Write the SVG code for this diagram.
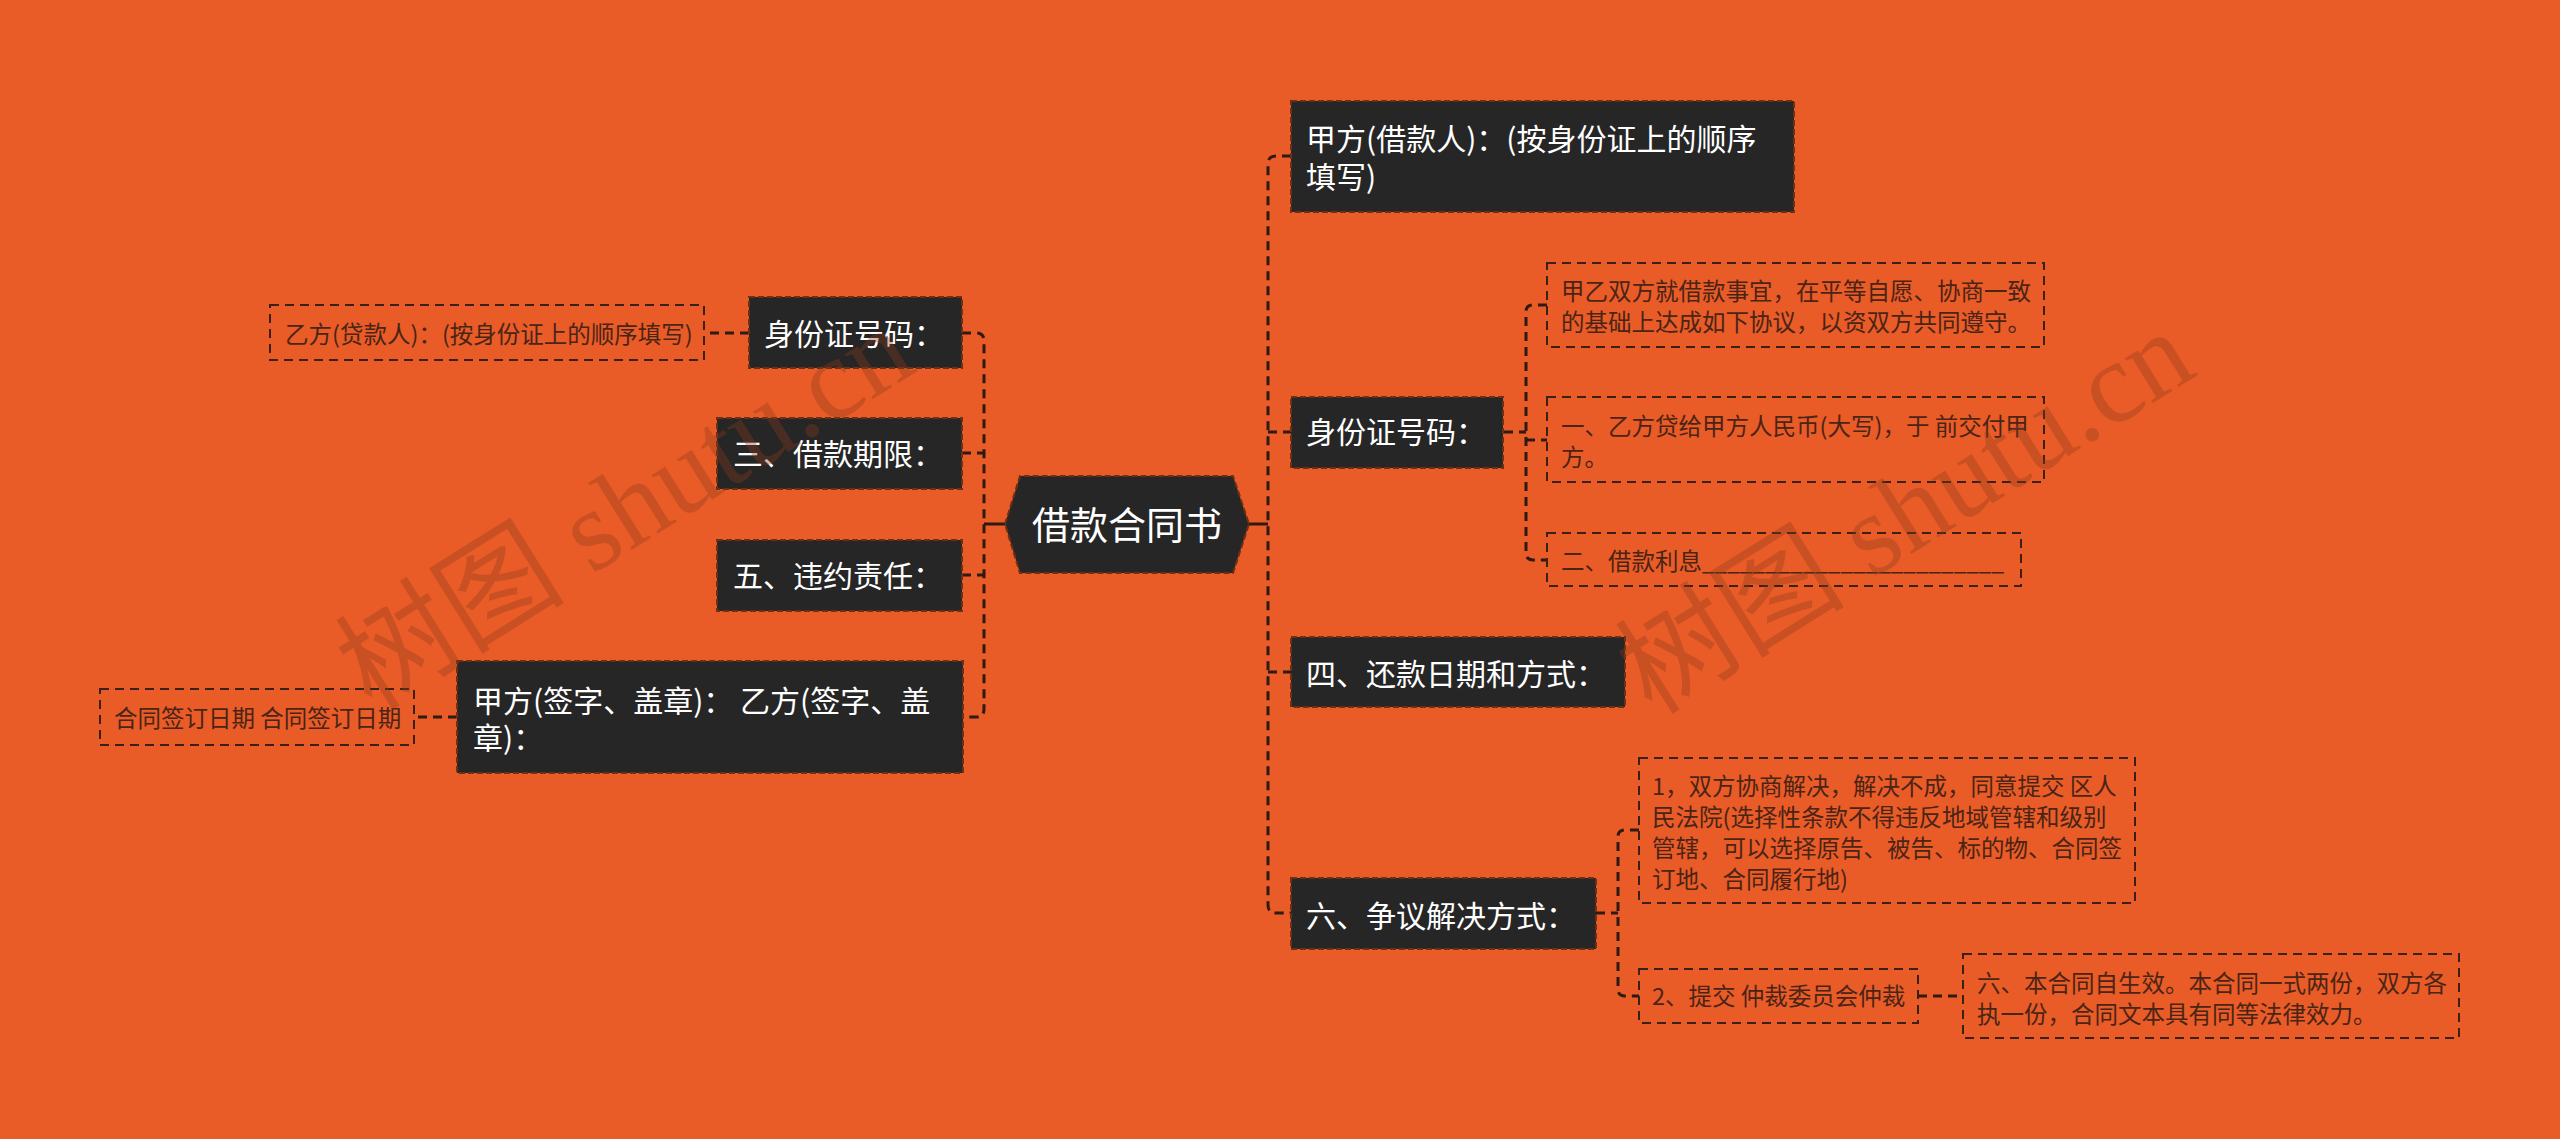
<svg xmlns="http://www.w3.org/2000/svg" width="2560" height="1139" viewBox="0 0 2560 1139">
<style>
.bg{fill:#E95B27}
.dark rect,.dark polygon{fill:#262626;stroke:#6e3014;stroke-width:2;stroke-dasharray:6 3}
.dark text{fill:#ffffff;font-family:"Noto Sans CJK SC","Noto Sans",sans-serif;font-size:30px}
.leaf rect{fill:none;stroke:#3a2016;stroke-width:2;stroke-dasharray:9 6}
.leaf text{fill:#4a2416;font-family:"Noto Sans CJK SC","Noto Sans",sans-serif;font-size:23.5px}
.conn path{fill:none;stroke:#2e1a12;stroke-width:3;stroke-dasharray:9 6}
.conn .solid{stroke-dasharray:none}
.wm{fill:#8c3c1e;opacity:0.35;font-family:"Liberation Serif","Noto Sans CJK SC",serif;font-size:115px}
</style>
<rect class="bg" x="0" y="0" width="2560" height="1139"/>

<g id="connectors" class="conn">
  <path class="solid" d="M1249,524 H1268"/>
  <path d="M1291,156 H1276 Q1268,156 1268,164 V905 Q1268,913 1276,913 H1291"/>
  <path d="M1268,432 H1291"/>
  <path d="M1268,672 H1291"/>
  <path class="solid" d="M1005,524 H984"/>
  <path d="M962,333 H976 Q984,333 984,341 V709 Q984,717 976,717 H962"/>
  <path d="M962,453 H984"/>
  <path d="M962,575 H984"/>
  <path d="M1504,432 H1526"/>
  <path d="M1547,305 H1533 Q1526,305 1526,312 V553 Q1526,560 1533,560 H1547"/>
  <path d="M1526,440 H1547"/>
  <path d="M1596,913 H1618"/>
  <path d="M1639,830 H1625 Q1618,830 1618,837 V989 Q1618,996 1625,996 H1639"/>
  <path d="M1918,996 H1963"/>
  <path d="M749,333 H704"/>
  <path d="M457,717 H414"/>
</g>

<g id="root" class="dark">
  <polygon points="1005,524 1020,476 1233,476 1249,524 1233,573 1020,573"/>
  <text x="1127" y="539" text-anchor="middle" style="font-size:38px">借款合同书</text>
</g>

<g id="r1" class="dark">
  <rect x="1291" y="101" width="503" height="111"/>
  <text x="1306" y="150">甲方(借款人)：(按身份证上的顺序<tspan x="1306" y="188">填写)</tspan></text>
</g>
<g id="r2" class="dark">
  <rect x="1291" y="397" width="212" height="71"/>
  <text x="1306" y="443">身份证号码：</text>
</g>
<g id="r2a" class="leaf">
  <rect x="1547" y="263" width="497" height="84"/>
  <text x="1561" y="300">甲乙双方就借款事宜，在平等自愿、协商一致<tspan x="1561" y="331">的基础上达成如下协议，以资双方共同遵守。</tspan></text>
</g>
<g id="r2b" class="leaf">
  <rect x="1547" y="397" width="497" height="85"/>
  <text x="1561" y="435">一、乙方贷给甲方人民币(大写)，于 前交付甲<tspan x="1561" y="466">方。</tspan></text>
</g>
<g id="r2c" class="leaf">
  <rect x="1547" y="533" width="474" height="53"/>
  <text x="1561" y="570">二、借款利息<tspan textLength="302" lengthAdjust="spacingAndGlyphs">________________________</tspan></text>
</g>
<g id="r3" class="dark">
  <rect x="1291" y="637" width="334" height="70"/>
  <text x="1306" y="685">四、还款日期和方式：</text>
</g>
<g id="r4" class="dark">
  <rect x="1291" y="878" width="305" height="71"/>
  <text x="1306" y="927">六、争议解决方式：</text>
</g>
<g id="r4a" class="leaf">
  <rect x="1639" y="758" width="496" height="145"/>
  <text x="1652" y="795">1，双方协商解决，解决不成，同意提交 区人<tspan x="1652" y="826">民法院(选择性条款不得违反地域管辖和级别</tspan><tspan x="1652" y="857">管辖，可以选择原告、被告、标的物、合同签</tspan><tspan x="1652" y="888">订地、合同履行地)</tspan></text>
</g>
<g id="r4b" class="leaf">
  <rect x="1639" y="969" width="279" height="54"/>
  <text x="1652" y="1005">2、提交 仲裁委员会仲裁</text>
</g>
<g id="r4b1" class="leaf">
  <rect x="1963" y="954" width="496" height="84"/>
  <text x="1977" y="992">六、本合同自生效。本合同一式两份，双方各<tspan x="1977" y="1023">执一份，合同文本具有同等法律效力。</tspan></text>
</g>

<g id="l1" class="dark">
  <rect x="749" y="297" width="213" height="71"/>
  <text x="764" y="345">身份证号码：</text>
</g>
<g id="l1a" class="leaf">
  <rect x="270" y="305" width="434" height="55"/>
  <text x="285" y="343">乙方(贷款人)：(按身份证上的顺序填写)</text>
</g>
<g id="l2" class="dark">
  <rect x="717" y="418" width="245" height="71"/>
  <text x="733" y="465">三、借款期限：</text>
</g>
<g id="l3" class="dark">
  <rect x="717" y="540" width="245" height="71"/>
  <text x="733" y="587">五、违约责任：</text>
</g>
<g id="l4" class="dark">
  <rect x="457" y="661" width="506" height="112"/>
  <text x="473" y="712">甲方(签字、盖章)： 乙方(签字、盖<tspan x="473" y="749">章)：</tspan></text>
</g>
<g id="l4a" class="leaf">
  <rect x="100" y="689" width="314" height="56"/>
  <text x="114" y="727">合同签订日期 合同签订日期</text>
</g>

<text class="wm" transform="translate(372,712) rotate(-32)">树图 shutu.cn</text>
<text class="wm" transform="translate(1652,716) rotate(-32)">树图 shutu.cn</text>
</svg>
